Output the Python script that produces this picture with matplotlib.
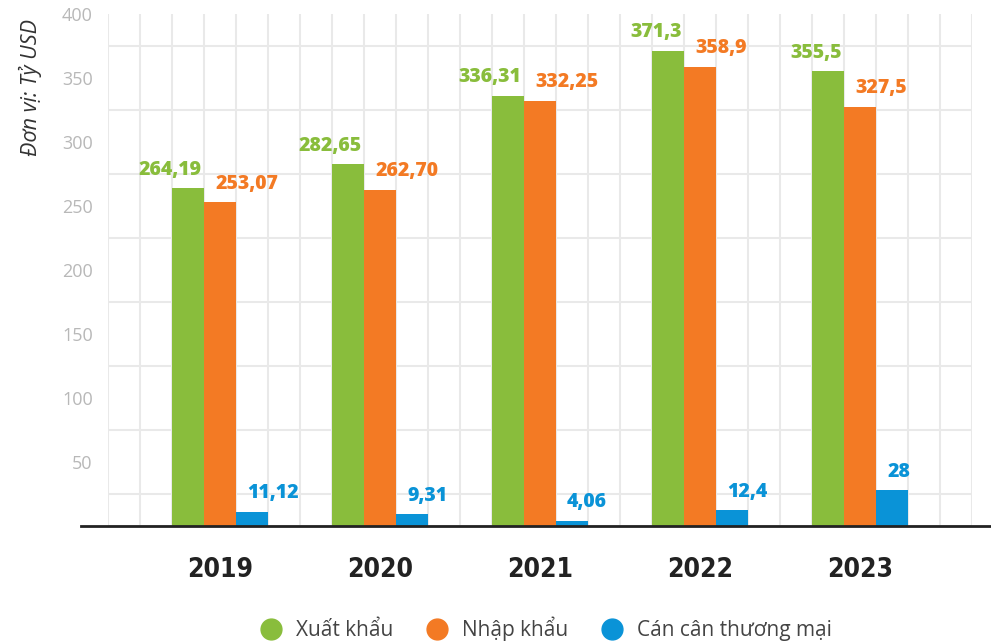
import matplotlib
matplotlib.use("Agg")
import matplotlib.pyplot as plt
from matplotlib.lines import Line2D
import numpy as np

years = ["2019", "2020", "2021", "2022", "2023"]
export_vals = [264.19, 282.65, 336.31, 371.3, 355.5]
import_vals = [253.07, 262.70, 332.25, 358.9, 327.5]
balance_vals = [11.12, 9.31, 4.06, 12.4, 28]
export_lbls = ["264,19", "282,65", "336,31", "371,3", "355,5"]
import_lbls = ["253,07", "262,70", "332,25", "358,9", "327,5"]
balance_lbls = ["11,12", "9,31", "4,06", "12,4", "28"]
series_names = ["Xuất khẩu", "Nhập khẩu", "Cán cân thương mại"]
yticks = [50, 100, 150, 200, 250, 300, 350, 400]

GREEN = "#89bd3c"
ORANGE = "#f37a24"
BLUE = "#0a93d7"
GRID = "#e9e9e9"

W, H = 991, 644
fig = plt.figure(figsize=(W / 100, H / 100), dpi=100)
ax = fig.add_axes([108 / W, (H - 526) / H, 864 / W, 512 / H])

centers = np.arange(len(years)) * 5 + 3.5
colors = [GREEN, ORANGE, BLUE]
vals = [export_vals, import_vals, balance_vals]
lbls = [export_lbls, import_lbls, balance_lbls]
offs = [-1, 0, 1]

for s in range(3):
    xs = centers + offs[s]
    ax.bar(xs, vals[s], width=1.0, color=colors[s], zorder=3, linewidth=0)
    for x, v, t in zip(xs, vals[s], lbls[s]):
        if s == 0:
            ax.annotate(t, (x + 0.42, v), xytext=(0, 6), textcoords="offset points",
                        ha="right", va="bottom", color=colors[s], fontsize=14,
                        fontweight="heavy", family="Open Sans", zorder=4)
        else:
            ax.annotate(t, (x - 0.5, v), xytext=(8, 6), textcoords="offset points",
                        ha="left", va="bottom", color=colors[s], fontsize=14,
                        fontweight="heavy", family="Open Sans", zorder=4)

ax.set_xlim(0, 27)
ax.set_ylim(0, 400)
ax.set_xticks(np.arange(0, 28), minor=True)
ax.set_yticks(np.arange(0, 401, 25), minor=True)
ax.grid(True, which="minor", color=GRID, linewidth=1.5, zorder=0)
ax.set_axisbelow(True)

ax.set_yticks(yticks)
ax.set_yticklabels([str(t) for t in yticks], color="#b8b8b8", fontsize=13, family="Open Sans")
ax.set_xticks(centers)
ax.set_xticklabels(years, fontsize=19, fontweight="bold", color="#222222",
                   family="DejaVu Sans", fontstretch="condensed")
ax.tick_params(axis="y", which="both", length=0, pad=11)
ax.tick_params(axis="x", which="both", length=0, pad=22)
for sp in ax.spines.values():
    sp.set_visible(False)

fig.text(30 / W, 1 - 88 / H, "Đơn vị: Tỷ USD", rotation=90, ha="center", va="center",
         fontsize=15.5, style="italic", color="#333333", family="Open Sans")

fig.add_artist(Line2D([81 / W, 1.0], [(H - 526) / H] * 2, transform=fig.transFigure,
                      color="#222222", linewidth=2, zorder=5))

handles = [Line2D([0], [0], marker="o", linestyle="none", markersize=15,
                  markerfacecolor=c, markeredgecolor=c) for c in colors]
leg = fig.legend(handles, series_names, loc="center", bbox_to_anchor=(541 / W, 1 - 629 / H),
                 ncol=3, frameon=False, handletextpad=0.2, columnspacing=1.1,
                 prop={"family": "Open Sans", "size": 15})
for t in leg.get_texts():
    t.set_color("#444444")

fig.savefig("out.png", dpi=100)
